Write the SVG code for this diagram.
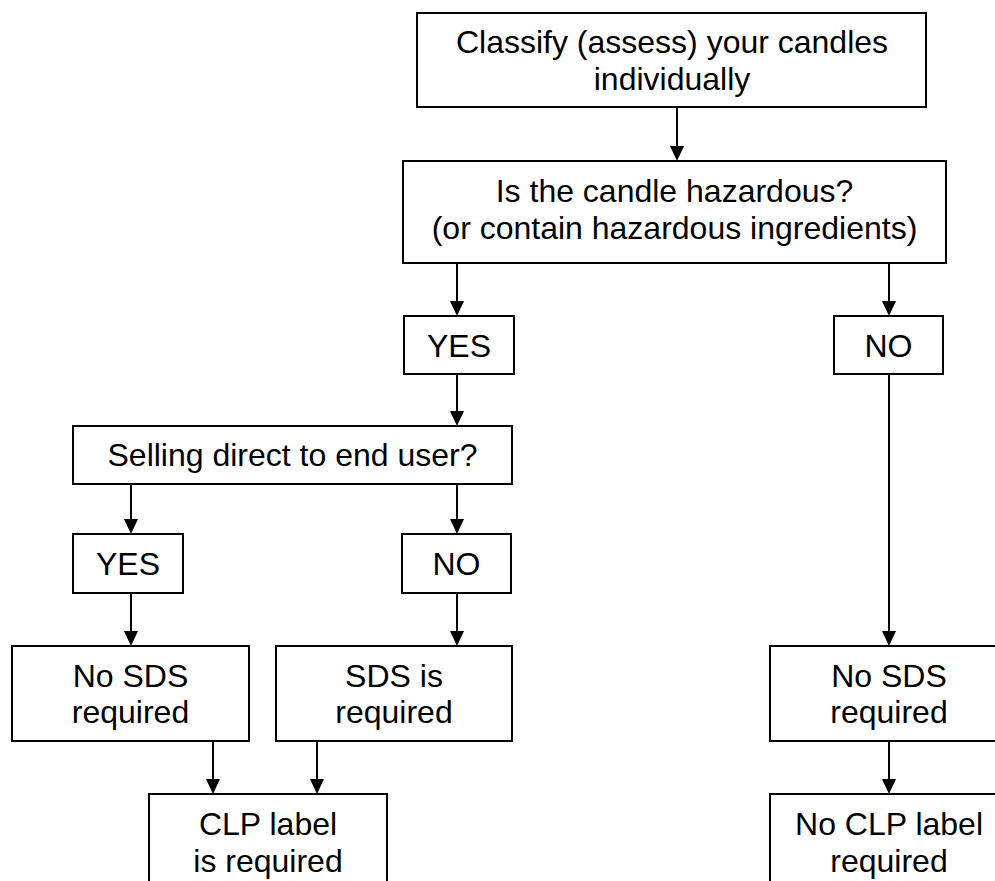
<svg xmlns="http://www.w3.org/2000/svg" width="995" height="881" viewBox="0 0 995 881">
<defs>
<marker id="ah" viewBox="0 0 14 15" refX="7" refY="15" markerWidth="14" markerHeight="15" markerUnits="userSpaceOnUse" orient="auto-start-reverse">
<path d="M0,0 L14,0 L7,15 Z" fill="#000"/>
</marker>
<style>
.box{fill:#fff;stroke:#000;stroke-width:2}
.t{font-family:"Liberation Sans",Arial,sans-serif;font-size:32px;fill:#000;text-anchor:middle}
.c{stroke:#000;stroke-width:2;fill:none}
</style>
</defs>
<rect width="995" height="881" fill="#fff"/>
<g id="connectors">
<line class="c" x1="677" y1="107" x2="677" y2="146"/>
<path d="M670,146 L684,146 L677,161 Z"/>
<line class="c" x1="457" y1="263" x2="457" y2="301"/>
<path d="M450,301 L464,301 L457,316 Z"/>
<line class="c" x1="889" y1="263" x2="889" y2="301"/>
<path d="M882,301 L896,301 L889,316 Z"/>
<line class="c" x1="457" y1="374" x2="457" y2="411"/>
<path d="M450,411 L464,411 L457,426 Z"/>
<line class="c" x1="131" y1="484" x2="131" y2="519"/>
<path d="M124,519 L138,519 L131,534 Z"/>
<line class="c" x1="457" y1="484" x2="457" y2="519"/>
<path d="M450,519 L464,519 L457,534 Z"/>
<line class="c" x1="131" y1="593" x2="131" y2="631"/>
<path d="M124,631 L138,631 L131,646 Z"/>
<line class="c" x1="457" y1="593" x2="457" y2="631"/>
<path d="M450,631 L464,631 L457,646 Z"/>
<line class="c" x1="213" y1="741" x2="213" y2="779"/>
<path d="M206,779 L220,779 L213,794 Z"/>
<line class="c" x1="317" y1="741" x2="317" y2="779"/>
<path d="M310,779 L324,779 L317,794 Z"/>
<line class="c" x1="889" y1="374" x2="889" y2="631"/>
<path d="M882,631 L896,631 L889,646 Z"/>
<line class="c" x1="889" y1="741" x2="889" y2="779"/>
<path d="M882,779 L896,779 L889,794 Z"/>
</g>
<g id="classify">
<rect class="box" x="417" y="13" width="509" height="94"/>
<text class="t" x="672" y="53">Classify (assess) your candles</text>
<text class="t" x="672" y="90">individually</text>
</g>
<g id="hazardous">
<rect class="box" x="403" y="161" width="543" height="102"/>
<text class="t" x="674.5" y="202">Is the candle hazardous?</text>
<text class="t" x="674.5" y="239">(or contain hazardous ingredients)</text>
</g>
<g id="yes1">
<rect class="box" x="404" y="316" width="110" height="58"/>
<text class="t" x="459" y="357">YES</text>
</g>
<g id="no1">
<rect class="box" x="834" y="316" width="109" height="58"/>
<text class="t" x="888.5" y="357">NO</text>
</g>
<g id="selling">
<rect class="box" x="73" y="426" width="439" height="58"/>
<text class="t" x="292.5" y="466">Selling direct to end user?</text>
</g>
<g id="yes2">
<rect class="box" x="73" y="534" width="110" height="59"/>
<text class="t" x="128" y="575">YES</text>
</g>
<g id="no2">
<rect class="box" x="402" y="534" width="109" height="59"/>
<text class="t" x="456.5" y="575">NO</text>
</g>
<g id="nosds-left">
<rect class="box" x="12" y="646" width="237" height="95"/>
<text class="t" x="130.5" y="687">No SDS</text>
<text class="t" x="130.5" y="723">required</text>
</g>
<g id="sds-required">
<rect class="box" x="276" y="646" width="236" height="95"/>
<text class="t" x="394" y="687">SDS is</text>
<text class="t" x="394" y="723">required</text>
</g>
<g id="clp-required">
<rect class="box" x="149" y="794" width="238" height="100"/>
<text class="t" x="268" y="835">CLP label</text>
<text class="t" x="268" y="872">is required</text>
</g>
<g id="nosds-right">
<rect class="box" x="770" y="646" width="238" height="95"/>
<text class="t" x="889" y="687">No SDS</text>
<text class="t" x="889" y="723">required</text>
</g>
<g id="noclp">
<rect class="box" x="770" y="794" width="238" height="100"/>
<text class="t" x="889" y="835">No CLP label</text>
<text class="t" x="889" y="872">required</text>
</g>
</svg>
